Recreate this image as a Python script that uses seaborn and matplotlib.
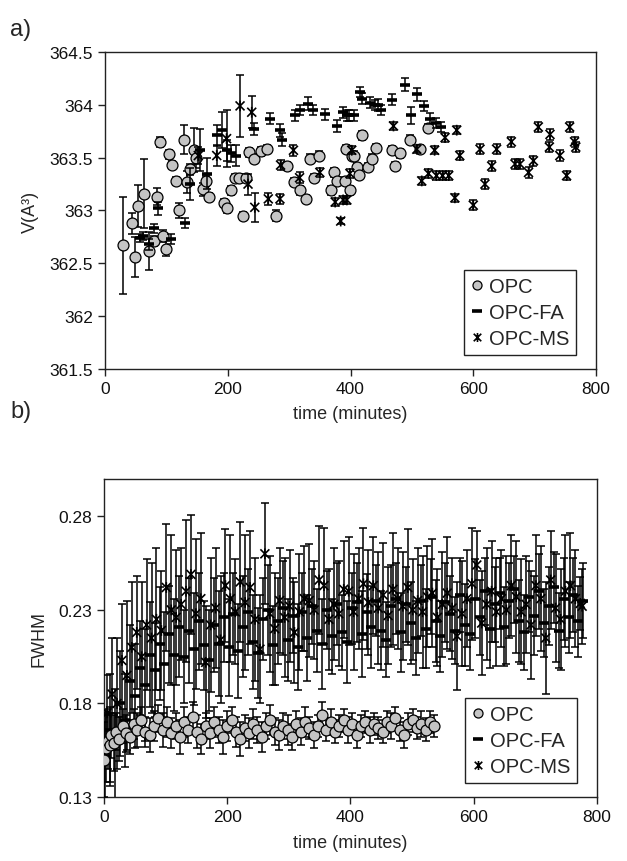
import numpy as np
import pandas as pd
import matplotlib
matplotlib.use("Agg")
import matplotlib.pyplot as plt
from matplotlib.path import Path
from matplotlib.lines import Line2D
import seaborn as sns

# ---------------- panel a data: V (A^3) ----------------
opc_a_t = [29, 44, 49, 54, 64, 71, 79, 85, 90, 95,
           100, 105, 109, 115, 120, 129, 134, 138, 145, 149,
           159, 165, 169, 194, 199, 205, 212, 219, 224, 229,
           234, 243, 254, 264, 279, 296, 308, 317, 328, 334,
           340, 349, 369, 373, 378, 391, 393, 399, 402, 405,
           410, 414, 419, 429, 435, 442, 467, 472, 480, 497,
           513, 527]
opc_a_v = [362.67, 362.88, 362.56, 363.04, 363.16, 362.62, 362.71, 363.13, 363.65, 362.76,
           362.64, 363.53, 363.43, 363.28, 363.0, 363.67, 363.27, 363.39, 363.57, 363.5,
           363.2, 363.28, 363.13, 363.07, 363.02, 363.19, 363.31, 363.31, 362.95, 363.31,
           363.55, 363.49, 363.56, 363.58, 362.95, 363.42, 363.27, 363.19, 363.11, 363.49,
           363.31, 363.52, 363.19, 363.36, 363.28, 363.28, 363.58, 363.19, 363.52, 363.52,
           363.41, 363.34, 363.71, 363.41, 363.49, 363.59, 363.57, 363.42, 363.54, 363.67,
           363.58, 363.78]
opc_a_e = [0.46, 0.1, 0.19, 0.2, 0.33, 0.18, 0.05, 0.08, 0.05, 0.06,
           0.07, 0.04, 0.04, 0.04, 0.07, 0.14, 0.1, 0.05, 0.21, 0.1,
           0.06, 0.05, 0.04, 0.04, 0.04, 0.04, 0.04, 0.04, 0.04, 0.04,
           0.04, 0.04, 0.04, 0.04, 0.05, 0.04, 0.04, 0.04, 0.04, 0.04,
           0.04, 0.04, 0.04, 0.04, 0.04, 0.04, 0.04, 0.04, 0.04, 0.04,
           0.04, 0.04, 0.04, 0.04, 0.04, 0.04, 0.04, 0.04, 0.04, 0.04,
           0.04, 0.04]

fa_a_t = [57, 62, 71, 79, 87, 108, 130, 138, 155, 166,
          182, 190, 198, 206, 214, 242, 269, 285, 288, 309,
          318, 331, 339, 359, 378, 388, 394, 397, 405, 415,
          418, 432, 440, 445, 450, 467, 489, 499, 508, 519,
          529, 540, 548]
fa_a_v = [362.74, 362.76, 362.68, 362.83, 363.02, 362.73, 362.88, 363.25, 363.57, 363.35,
          363.71, 363.76, 363.57, 363.54, 363.52, 363.77, 363.87, 363.76, 363.67, 363.9,
          363.95, 364.01, 363.95, 363.91, 363.8, 363.93, 363.9, 363.9, 363.9, 364.12,
          364.06, 364.02, 364.0, 364.0, 363.95, 364.05, 364.19, 363.9, 364.1, 363.99,
          363.87, 363.83, 363.79]
fa_a_e = [0.04, 0.04, 0.05, 0.04, 0.06, 0.05, 0.05, 0.15, 0.2, 0.15,
          0.1, 0.17, 0.1, 0.08, 0.1, 0.06, 0.05, 0.06, 0.06, 0.05,
          0.05, 0.06, 0.05, 0.05, 0.06, 0.05, 0.05, 0.05, 0.05, 0.05,
          0.05, 0.05, 0.05, 0.06, 0.05, 0.05, 0.06, 0.08, 0.06, 0.05,
          0.05, 0.05, 0.05]

ms_a_t = [152, 182, 198, 220, 233, 239, 244, 266, 285, 286,
          307, 317, 350, 375, 384, 388, 394, 399, 402, 470,
          508, 516, 527, 537, 540, 550, 554, 560, 570, 573,
          578, 600, 611, 619, 630, 638, 662, 668, 676, 690,
          698, 706, 724, 725, 741, 752, 757, 765, 767]
ms_a_v = [363.52, 363.52, 363.68, 363.99, 363.25, 363.93, 363.03, 363.11, 363.11, 363.43,
          363.57, 363.31, 363.36, 363.08, 362.9, 363.1, 363.1, 363.35, 363.57, 363.8,
          363.58, 363.28, 363.35, 363.57, 363.33, 363.33, 363.69, 363.33, 363.12, 363.76,
          363.52, 363.05, 363.58, 363.25, 363.42, 363.58, 363.65, 363.44, 363.44, 363.36,
          363.47, 363.79, 363.6, 363.72, 363.52, 363.33, 363.79, 363.65, 363.6]
ms_a_e = [0.08, 0.1, 0.27, 0.29, 0.1, 0.15, 0.14, 0.06, 0.05, 0.05,
          0.05, 0.05, 0.04, 0.04, 0.03, 0.04, 0.04, 0.04, 0.04, 0.04,
          0.04, 0.04, 0.04, 0.04, 0.04, 0.04, 0.04, 0.04, 0.04, 0.04,
          0.04, 0.05, 0.05, 0.05, 0.05, 0.05, 0.05, 0.05, 0.05, 0.05,
          0.05, 0.05, 0.05, 0.05, 0.05, 0.04, 0.05, 0.05, 0.05]

# ---------------- panel b data: FWHM ----------------
opc_b_t = [0, 3, 6, 9, 12, 16, 20, 25, 30, 36,
           42, 48, 54, 60, 67, 74, 81, 88, 95, 102,
           109, 116, 123, 130, 137, 144, 151, 158, 165, 172,
           179, 186, 193, 200, 207, 214, 221, 228, 235, 242,
           249, 256, 263, 270, 277, 284, 291, 298, 305, 312,
           319, 326, 333, 340, 347, 354, 361, 368, 375, 382,
           389, 396, 403, 410, 417, 424, 431, 438, 445, 452,
           459, 466, 473, 480, 487, 494, 501, 508, 515, 522,
           529, 536]
opc_b_v = [0.150, 0.156, 0.160, 0.158, 0.163, 0.159, 0.165, 0.161, 0.168, 0.164,
           0.162, 0.169, 0.166, 0.171, 0.165, 0.163, 0.168, 0.172, 0.166, 0.170,
           0.164, 0.168, 0.162, 0.170, 0.166, 0.173, 0.165, 0.161, 0.168, 0.164,
           0.170, 0.166, 0.162, 0.168, 0.171, 0.165, 0.161, 0.167, 0.164, 0.169,
           0.166, 0.162, 0.168, 0.171, 0.165, 0.163, 0.168, 0.166, 0.162, 0.169,
           0.165, 0.170, 0.167, 0.163, 0.168, 0.174, 0.166, 0.170, 0.165, 0.168,
           0.171, 0.166, 0.169, 0.163, 0.168, 0.170, 0.166, 0.169, 0.167, 0.165,
           0.170, 0.168, 0.172, 0.166, 0.163, 0.169, 0.171, 0.167, 0.169, 0.166,
           0.170, 0.168]
opc_b_e = [0.02, 0.018, 0.015, 0.02, 0.012, 0.015, 0.01, 0.012, 0.009, 0.01,
           0.009, 0.008, 0.009, 0.007, 0.008, 0.009, 0.008, 0.007, 0.009, 0.008,
           0.008, 0.007, 0.009, 0.008, 0.007, 0.008, 0.009, 0.008, 0.007, 0.008,
           0.008, 0.007, 0.009, 0.008, 0.007, 0.008, 0.009, 0.007, 0.008, 0.008,
           0.007, 0.008, 0.007, 0.008, 0.007, 0.008, 0.007, 0.008, 0.007, 0.007,
           0.007, 0.008, 0.006, 0.007, 0.006, 0.007, 0.006, 0.007, 0.006, 0.006,
           0.006, 0.007, 0.006, 0.007, 0.006, 0.006, 0.007, 0.006, 0.006, 0.006,
           0.006, 0.007, 0.006, 0.006, 0.007, 0.006, 0.006, 0.006, 0.007, 0.006,
           0.006, 0.006]

fa_b_t = [2, 10, 18, 26, 34, 42, 50, 58, 66, 74, 82, 90, 98, 106, 114, 122,
          130, 138, 146, 154, 162, 170, 178, 186, 194, 202, 210, 218, 226, 234, 242, 250,
          258, 266, 274, 282, 290, 298, 306, 314, 322, 330, 338, 346, 354, 362, 370, 378,
          386, 394, 402, 410, 418, 426, 434, 442, 450, 458, 466, 474, 482, 490, 498, 506,
          514, 522, 530, 538, 546, 554, 562, 570, 578, 586, 594, 602, 610, 618, 626, 634,
          642, 650, 658, 666, 674, 682, 690, 698, 706, 714, 722, 730, 738, 746, 754, 762,
          770, 778]
fa_b_v = [0.152, 0.166, 0.158, 0.180, 0.171, 0.192, 0.184, 0.199,
          0.190, 0.206, 0.198, 0.212, 0.201, 0.217, 0.206, 0.221,
          0.205, 0.219, 0.209, 0.224, 0.211, 0.203, 0.222, 0.212,
          0.226, 0.210, 0.228, 0.208, 0.221, 0.229, 0.213, 0.207,
          0.225, 0.230, 0.211, 0.224, 0.231, 0.214, 0.227, 0.210,
          0.229, 0.215, 0.232, 0.219, 0.212, 0.230, 0.216, 0.233,
          0.218, 0.213, 0.231, 0.234, 0.217, 0.229, 0.221, 0.235,
          0.219, 0.214, 0.232, 0.236, 0.218, 0.233, 0.223, 0.215,
          0.235, 0.220, 0.237, 0.224, 0.216, 0.234, 0.228, 0.219,
          0.238, 0.222, 0.217, 0.236, 0.226, 0.240, 0.220, 0.233,
          0.239, 0.221, 0.235, 0.241, 0.224, 0.218, 0.237, 0.227,
          0.240, 0.223, 0.232, 0.242, 0.219, 0.236, 0.226, 0.238,
          0.224, 0.235]
fa_b_e = [0.025, 0.03, 0.03, 0.028, 0.025, 0.03, 0.028, 0.025,
          0.03, 0.028, 0.025, 0.03, 0.028, 0.026, 0.03, 0.027,
          0.025, 0.028, 0.03, 0.026, 0.024, 0.027, 0.025, 0.028,
          0.024, 0.026, 0.022, 0.025, 0.027, 0.023, 0.025, 0.024,
          0.022, 0.024, 0.021, 0.023, 0.025, 0.022, 0.02, 0.023,
          0.021, 0.023, 0.02, 0.022, 0.024, 0.021, 0.02, 0.022,
          0.02, 0.022, 0.019, 0.021, 0.023, 0.02, 0.022, 0.019,
          0.021, 0.02, 0.022, 0.019, 0.021, 0.02, 0.022, 0.02,
          0.019, 0.021, 0.02, 0.022, 0.019, 0.021, 0.02, 0.018,
          0.02, 0.022, 0.019, 0.021, 0.02, 0.018, 0.021, 0.02,
          0.019, 0.021, 0.02, 0.018, 0.022, 0.02, 0.019, 0.021,
          0.02, 0.018, 0.021, 0.019, 0.02, 0.022, 0.019, 0.02,
          0.019, 0.02]

ms_b_t = [5, 13, 21, 29, 37, 45, 53, 61, 69, 77, 85, 93, 101, 109, 117, 125,
          133, 141, 149, 157, 165, 173, 181, 189, 197, 205, 213, 221, 229, 237, 245, 253,
          261, 269, 277, 285, 293, 301, 309, 317, 325, 333, 341, 349, 357, 365, 373, 381,
          389, 397, 405, 413, 421, 429, 437, 445, 453, 461, 469, 477, 485, 493, 501, 509,
          517, 525, 533, 541, 549, 557, 565, 573, 581, 589, 597, 605, 613, 621, 629, 637,
          645, 653, 661, 669, 677, 685, 693, 701, 709, 717, 725, 733, 741, 749, 757, 765,
          773, 776]
ms_b_v = [0.175, 0.185, 0.180, 0.203, 0.195, 0.210, 0.218, 0.205,
          0.222, 0.215, 0.225, 0.219, 0.242, 0.230, 0.226, 0.233,
          0.240, 0.249, 0.228, 0.236, 0.202, 0.222, 0.231, 0.214,
          0.243, 0.236, 0.229, 0.245, 0.234, 0.242, 0.225, 0.209,
          0.260, 0.228, 0.220, 0.235, 0.226, 0.232, 0.218, 0.229,
          0.236, 0.235, 0.230, 0.246, 0.243, 0.225, 0.233, 0.228,
          0.241, 0.240, 0.229, 0.236, 0.244, 0.234, 0.243, 0.231,
          0.238, 0.227, 0.241, 0.236, 0.232, 0.242, 0.230, 0.235,
          0.229, 0.237, 0.239, 0.226, 0.233, 0.239, 0.231, 0.216,
          0.228, 0.236, 0.244, 0.254, 0.223, 0.233, 0.240, 0.229,
          0.236, 0.230, 0.243, 0.237, 0.229, 0.233, 0.222, 0.243,
          0.236, 0.215, 0.246, 0.231, 0.225, 0.240, 0.243, 0.236,
          0.2335, 0.232]
ms_b_e = [0.02, 0.03, 0.035, 0.03, 0.04, 0.035, 0.03, 0.04,
          0.035, 0.04, 0.038, 0.032, 0.034, 0.04, 0.036, 0.03,
          0.038, 0.032, 0.04, 0.035, 0.03, 0.036, 0.032, 0.034,
          0.03, 0.034, 0.028, 0.032, 0.036, 0.03, 0.033, 0.029,
          0.027, 0.031, 0.03, 0.028, 0.032, 0.03, 0.027, 0.031,
          0.028, 0.03, 0.026, 0.029, 0.031, 0.027, 0.03, 0.028,
          0.026, 0.029, 0.031, 0.027, 0.03, 0.028, 0.026, 0.03,
          0.028, 0.026, 0.03, 0.027, 0.029, 0.031, 0.027, 0.028,
          0.03, 0.027, 0.029, 0.026, 0.028, 0.03, 0.027, 0.029,
          0.028, 0.026, 0.03, 0.018, 0.028, 0.03, 0.027, 0.029,
          0.026, 0.029, 0.027, 0.03, 0.028, 0.026, 0.029, 0.027,
          0.028, 0.03, 0.026, 0.029, 0.027, 0.03, 0.028, 0.026,
          0.014, 0.02]

series_names = ["OPC", "OPC-FA", "OPC-MS"]
x_ticks = [0, 200, 400, 600, 800]
a_yticks = [361.5, 362, 362.5, 363, 363.5, 364, 364.5]
b_yticks = [0.13, 0.18, 0.23, 0.28]

# ---------------- styling ----------------
sns.set_theme(style="ticks")
plt.rcParams["font.family"] = ["Liberation Sans", "DejaVu Sans"]
plt.rcParams["axes.linewidth"] = 1.0
plt.rcParams["axes.edgecolor"] = "#222222"

# asterisk marker: X with a vertical stroke
ast = Path([(-1, -1), (1, 1), (-1, 1), (1, -1), (0, -1.2), (0, 1.2)],
           [Path.MOVETO, Path.LINETO, Path.MOVETO, Path.LINETO, Path.MOVETO, Path.LINETO])

fig = plt.figure(figsize=(6.27, 8.62), dpi=100)
ax_a = fig.add_axes([0.1675, 0.5708, 0.7831, 0.3677])
ax_b = fig.add_axes([0.166, 0.0742, 0.786, 0.3690])

def draw_series(ax, t, v, e, kind, z):
    df = pd.DataFrame({"t": t, "v": v})
    ax.errorbar(t, v, yerr=e, fmt="none", ecolor="black", elinewidth=1.1,
                capsize=3, capthick=1.1, zorder=z)
    if kind == "OPC":
        sns.scatterplot(data=df, x="t", y="v", ax=ax, marker="o", s=62,
                        color="#c4c4c4", edgecolor="black", linewidth=0.9,
                        zorder=z + 0.5, legend=False)
    elif kind == "OPC-FA":
        sns.scatterplot(data=df, x="t", y="v", ax=ax, marker="_", s=45,
                        color="black", linewidth=2.6, zorder=z + 0.5, legend=False)
    else:
        sns.scatterplot(data=df, x="t", y="v", ax=ax, marker=ast, s=60,
                        facecolor="none", edgecolor="black", linewidth=1.2,
                        zorder=z + 0.5, legend=False)

# panel a
draw_series(ax_a, opc_a_t, opc_a_v, opc_a_e, "OPC", 2)
draw_series(ax_a, fa_a_t, fa_a_v, fa_a_e, "OPC-FA", 3)
draw_series(ax_a, ms_a_t, ms_a_v, ms_a_e, "OPC-MS", 4)

# panel b
draw_series(ax_b, fa_b_t, fa_b_v, fa_b_e, "OPC-FA", 2)
draw_series(ax_b, ms_b_t, ms_b_v, ms_b_e, "OPC-MS", 3)
draw_series(ax_b, opc_b_t, opc_b_v, opc_b_e, "OPC", 5)

handles = [
    Line2D([], [], ls="none", marker="o", markersize=6.5, markerfacecolor="#c4c4c4",
           markeredgecolor="black", markeredgewidth=0.9),
    Line2D([], [], ls="none", marker="_", markersize=7, markeredgewidth=2.6, color="black"),
    Line2D([], [], ls="none", marker=ast, markersize=6.5, markeredgewidth=1.2,
           markerfacecolor="none", markeredgecolor="black"),
]

for ax, yt, ylim, ylab, leg_anchor in [
        (ax_a, a_yticks, (361.5, 364.5), "V(A³)", (0.96, 0.045)),
        (ax_b, b_yticks, (0.13, 0.30), "FWHM", (0.96, 0.045))]:
    ax.set_xlim(0, 800)
    ax.set_ylim(*ylim)
    ax.set_xticks(x_ticks)
    ax.set_xticklabels([str(x) for x in x_ticks])
    ax.set_yticks(yt)
    ax.set_yticklabels([("%g" % y) for y in yt])
    ax.tick_params(axis="both", direction="out", length=5, width=1, labelsize=12.5,
                   colors="#222222", labelcolor="#111111")
    ax.set_xlabel("time (minutes)", fontsize=13, labelpad=7)
    ax.set_ylabel(ylab, fontsize=13, labelpad=8)
    for s in ax.spines.values():
        s.set_visible(True)
        s.set_color("#222222")
    leg = ax.legend(handles, series_names, loc="lower right", bbox_to_anchor=leg_anchor,
                    fontsize=14.5, frameon=True, fancybox=False, framealpha=1,
                    edgecolor="#222222", handlelength=0.6, handletextpad=0.3,
                    borderpad=0.35, labelspacing=0.35, borderaxespad=0.0)
    leg.get_frame().set_linewidth(1.0)

fig.text(0.016, 0.965, "a)", fontsize=17, ha="left", va="center")
fig.text(0.016, 0.522, "b)", fontsize=17, ha="left", va="center")

fig.savefig("out.png", dpi=100)
